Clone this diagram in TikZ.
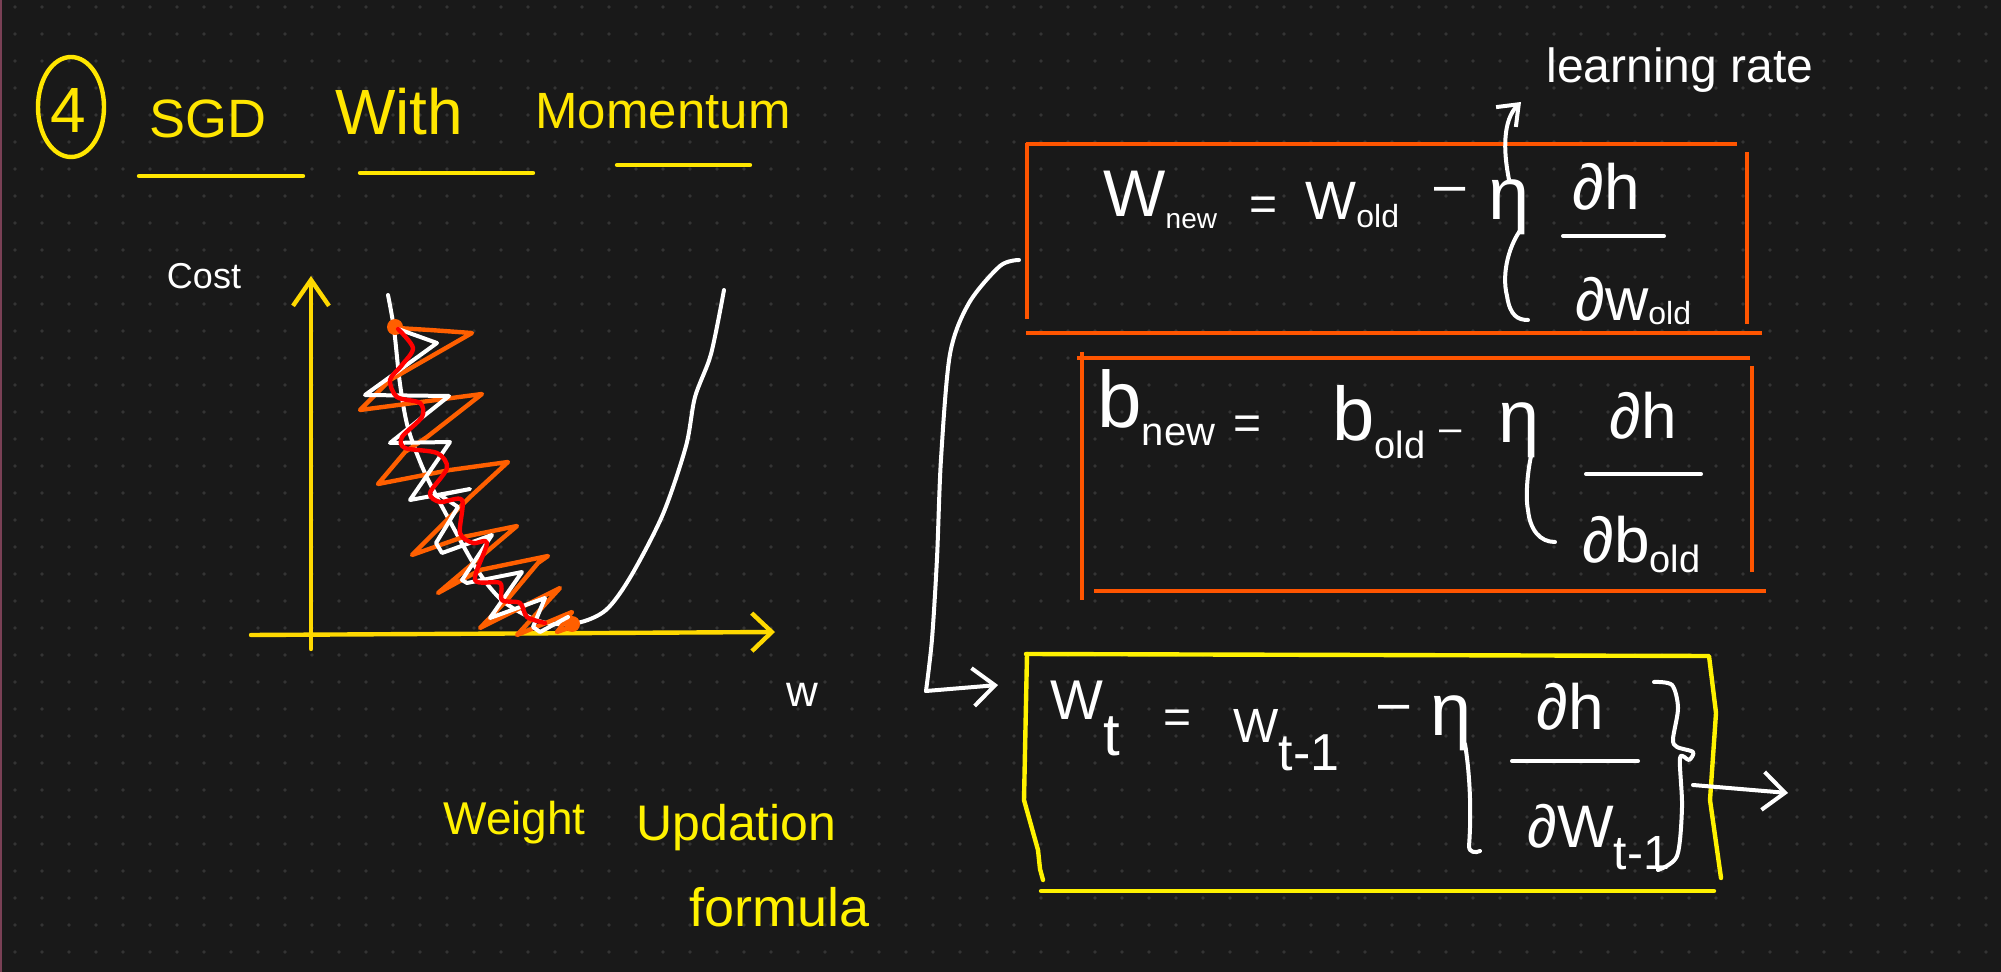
\documentclass[tikz,border=0pt]{standalone}
\usepackage{fontspec}
\setmainfont{Liberation Sans}
\usepackage{tikz}
\usetikzlibrary{arrows.meta}
\usepackage{xcolor}

\definecolor{boardbg}{HTML}{191919}
\definecolor{griddot}{HTML}{343434}
\definecolor{edgepink}{HTML}{7A4055}
\definecolor{titleyellow}{HTML}{FFE600}
\definecolor{axisyellow}{HTML}{FFD900}
\definecolor{noteyellow}{HTML}{FFF200}
\definecolor{boxorange}{HTML}{FF5500}
\definecolor{zigorange}{HTML}{FF5F00}

\newcommand{\lowertext}[3]{\raisebox{-#1pt}{\fontsize{#2}{#2}\selectfont #3}}

\begin{document}
\begin{tikzpicture}[
	  x=0.5pt,y=-0.5pt,
	  every node/.style={align=center,inner sep=0pt,draw=none},
	  hand/.style={font=\fontsize{#1}{#1}\selectfont},
	  whitetext/.style={text=white},
	  titletext/.style={text=titleyellow},
	  notetext/.style={text=noteyellow},
	  whitepen/.style={draw=white,line width=2pt,line cap=round,line join=round},
	  titlepen/.style={draw=titleyellow,line width=2.2pt,line cap=round},
	  axispen/.style={draw=axisyellow,line width=2.2pt,line cap=round,line join=round},
	  orangepen/.style={draw=boxorange,line width=2.2pt},
	  yellowpen/.style={draw=noteyellow,line width=2.2pt,line cap=round,line join=round},
	  zigpen/.style={draw=zigorange,line width=2.2pt,line cap=round,line join=round},
	  redpen/.style={draw=red,line width=2.2pt,line cap=round,line join=round},
	  to/.style={-{Straight Barb[length=11pt,width=19pt]}}]

	  % Board and its dots
	  \fill[boardbg] (0,0) rectangle (2001,972);
	  \useasboundingbox (0,0) rectangle (2001,972);
	  \draw[draw=edgepink,line width=1.5pt] (0,0) -- (0,972);
	  \foreach \dotx in {15,42,...,1999}
	    \foreach \doty in {7,34,...,970}
	      \fill[griddot] (\dotx,\doty) circle (0.9pt);

	  % Title
	  \draw[titlepen] (71,107) ellipse (33 and 50);
	  \node[titletext,hand=32] (number) at (68,110) {4};
	  \node[titletext,hand=27] (sgd) at (208,119) {SGD};
	  \node[titletext,hand=32] (with) at (399,112) {With};
	  \node[titletext,hand=25.5] (momentum) at (663,111) {Momentum};
	  \draw[titlepen] (139,176) -- (303,176);
	  \draw[titlepen] (360,173) -- (533,173);
	  \draw[titlepen] (617,165) -- (750,165);

	  % Cost plot
	  \node[whitetext,hand=18] (cost) at (204,276) {Cost};
	  \node[whitetext,hand=22] (waxis) at (802,695) {w};
	  \coordinate (ybottom) at (311,649);
	  \coordinate (ytop) at (311,276);
	  \coordinate (xleft) at (251,635);
	  \coordinate (xright) at (775,632);
	  \draw[axispen,-{Straight Barb[length=13pt,width=18pt]}] (ybottom) -- (ytop);
	  \draw[axispen,-{Straight Barb[length=10pt,width=19pt]}] (xleft) -- (xright);
	  \draw[whitepen] plot[smooth] coordinates {(388,295) (394,329) (400,384) (408,428) (424,471) (446,514) (478,571) (504,602) (542,622) (577,623) (606,610) (631,576) (663,514) (686,446) (695,397) (711,354) (724,290)};
	  \draw[zigpen] (397,328) -- (430,330) -- (472,333) -- (390,380) -- (360,410) -- (482,394) -- (427,437) -- (405,452) -- (378,484) -- (450,470) -- (508,462) -- (470,497) -- (412,555) -- (463,537) -- (517,526) -- (438,593) -- (480,570) -- (548,556) -- (538,563) -- (507,600) -- (480,628) -- (560,588) -- (517,635) -- (572,612) -- (557,632) -- (577,625);
	  \fill[zigorange] (395,327) circle (4pt);
	  \fill[zigorange] (572,624) circle (4pt);
	  \draw[whitepen] (398,329) -- (437,343) -- (365,395) -- (449,396) -- (390,443) -- (450,442) -- (410,500) -- (470,489) -- (440,495) -- (458,507) -- (436,543) -- (442,553) -- (492,535) -- (462,580) -- (467,583) -- (522,572) -- (490,618) -- (545,598) -- (533,627) -- (540,632) -- (568,617);
	  \draw[redpen] plot[smooth] coordinates {(398,329) (413,348) (402,365) (390,380) (397,397) (420,403) (422,417) (402,437) (405,448) (437,453) (447,468) (430,493) (440,502) (462,500) (460,533) (473,543) (487,543) (475,580) (500,583) (502,600) (520,603) (527,617) (545,623)};

	  % Note under the plot
	  \node[notetext,hand=23,anchor=base west] (weight) at (443,834) {Weight};
	  \node[notetext,hand=25,anchor=base west] (updation) at (636,840) {Updation};
	  \node[notetext,hand=27,anchor=base west] (formula) at (689,926) {formula};

	  % First box
	  \draw[orangepen] (1026,144) -- (1737,144);
	  \draw[orangepen] (1027,143) -- (1027,319);
	  \draw[orangepen] (1026,333) -- (1762,333);
	  \draw[orangepen] (1747,152) -- (1747,324);
	  \node[whitetext,hand=33,anchor=base west] (wnew) at (1103,217) {W\lowertext{6}{14}{new}};
	  \node[whitetext,hand=24] (eqone) at (1263,209) {=};
	  \node[whitetext,hand=27,anchor=base west] (wold) at (1305,220) {W\lowertext{4}{16}{old}};
	  \node[whitetext,hand=28] (minusone) at (1450,195) {--};
	  \node[whitetext,hand=37,anchor=base] (etaone) at (1509,220) {η};
	  \draw[whitepen] (1522,228) .. controls (1510,243) and (1501,272) .. (1507,296) .. controls (1510,316) and (1518,320) .. (1528,320);
	  \node[whitetext,hand=32] (dhone) at (1606,187) {∂h};
	  \draw[whitepen] (1563,236) -- (1664,236);
	  \node[whitetext,hand=30,anchor=base west] (dwold) at (1575,321) {∂w\lowertext{2}{16}{old}};
	  \node[whitetext,hand=24] (learning) at (1680,70) {learning rate};
	  \coordinate (learningtip) at (1521,102);
	  \draw[whitepen,-{Straight Barb[length=9pt,width=14pt]}] (etaone.north) .. controls (1503,150) and (1503,120) .. (learningtip);

	  % Second box
	  \draw[orangepen] (1077,358) -- (1750,358);
	  \draw[orangepen] (1082,352) -- (1082,600);
	  \draw[orangepen] (1094,591) -- (1766,591);
	  \draw[orangepen] (1752,366) -- (1752,572);
	  \node[whitetext,hand=40,anchor=base west] (bnew) at (1097,428) {b\lowertext{9}{20}{new}};
	  \node[whitetext,hand=24] (eqtwo) at (1247,428) {=};
	  \node[whitetext,hand=38,anchor=base west] (bold) at (1332,441) {b\lowertext{9}{19}{old}};
	  \node[whitetext,hand=20] (minustwo) at (1451,436) {--};
	  \node[whitetext,hand=37,anchor=base] (etatwo) at (1519,443) {η};
	  \draw[whitepen] (1532,452) .. controls (1528,467) and (1525,496) .. (1528,510) .. controls (1530,530) and (1540,542) .. (1555,542);
	  \node[whitetext,hand=32] (dhtwo) at (1643,416) {∂h};
	  \draw[whitepen] (1586,474) -- (1701,474);
	  \node[whitetext,hand=32,anchor=base west] (dbold) at (1582,562) {∂b\lowertext{5}{19}{old}};

	  % Third box
	  \draw[yellowpen] (1026,654) -- (1709,656) -- (1716,713) -- (1710,800) -- (1721,878);
	  \draw[yellowpen] (1027,654) -- (1024,800) -- (1038,850) -- (1040,869) -- (1043,880);
	  \draw[yellowpen] (1041,891) -- (1714,891);
	  \node[whitetext,hand=28,anchor=base west] (wt) at (1050,719) {W\lowertext{18}{30}{t}};
	  \node[whitetext,hand=24] (eqthree) at (1177,722) {=};
	  \node[whitetext,hand=24,anchor=base west] (wtone) at (1233,742) {W\lowertext{14}{26}{t-1}};
	  \node[whitetext,hand=28] (minusthree) at (1394,713) {--};
	  \node[whitetext,hand=37,anchor=base] (etathree) at (1451,735) {η};
	  \draw[whitepen] (1465,744) .. controls (1469,768) and (1472,807) .. (1469,846) .. controls (1469,853) and (1476,853) .. (1480,851);
	  \node[whitetext,hand=32] (dhthree) at (1570,707) {∂h};
	  \draw[whitepen] (1512,761) -- (1638,761);
	  \node[whitetext,hand=30,anchor=base west] (dwtone) at (1527,847) {∂W\lowertext{11}{24}{t-1}};
	  \draw[whitepen] plot[smooth] coordinates {(1654,682) (1672,685) (1678,708) (1673,739) (1677,747) (1693,752) (1689,760) (1680,758) (1682,807) (1677,856) (1658,870)};

	  % Connectors
	  \coordinate (wboxport) at (1019,260);
	  \coordinate (tboxelbow) at (926,691);
	  \coordinate (tboxport) at (998,685);
	  \coordinate (braceport) at (1693,785);
	  \coordinate (bracetip) at (1788,793);
	  \draw[whitepen] plot[smooth] coordinates {(wboxport) (1000,266) (969,303) (950,354) (941,459) (937,558) (932,639) (tboxelbow)};
	  \draw[whitepen,to] (tboxelbow) -- (tboxport);
	  \draw[whitepen,to] (braceport) -- (bracetip);

\end{tikzpicture}
\end{document}
